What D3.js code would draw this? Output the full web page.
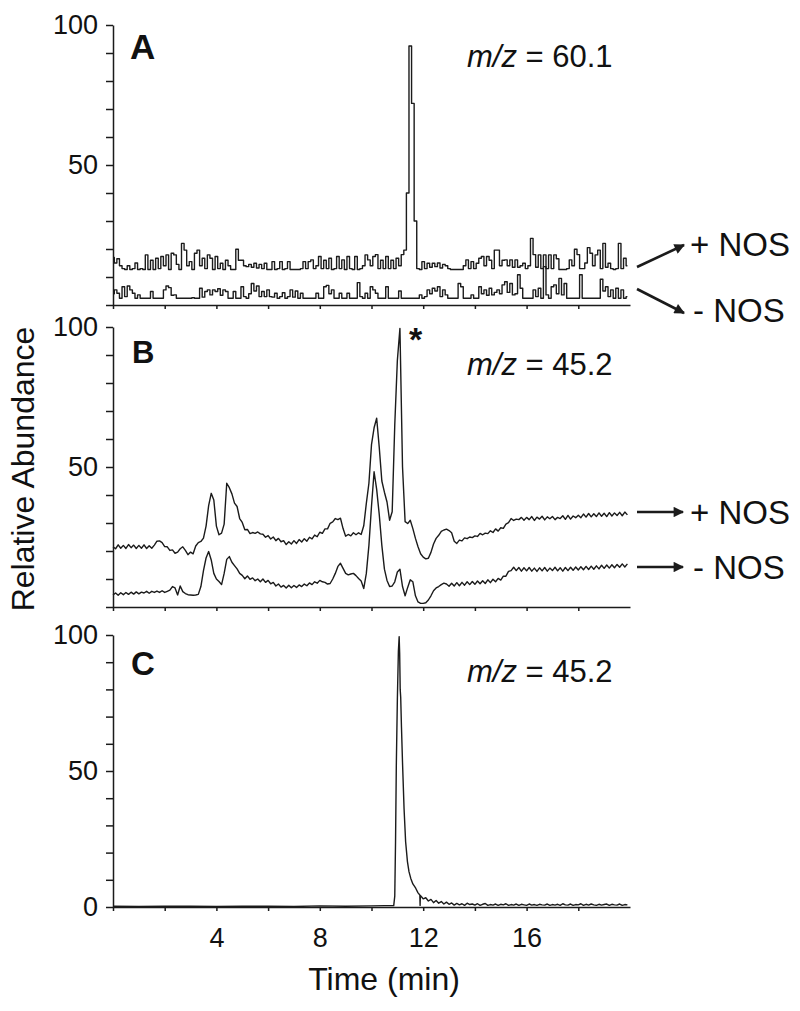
<!doctype html>
<html lang="en">
  <head>
    <meta charset="utf-8">
    <title>Relative abundance chromatograms</title>
    <script src="https://cdn.jsdelivr.net/npm/d3@7"></script>
    <style>
      body { margin: 0; background: #fff; }
      svg { display: block; }
      text { font-family: "Liberation Sans", Arial, sans-serif; fill: #111; }
    </style>
  </head>
  <body>
    <svg id="chart" width="800" height="1011"></svg>
    <script>
      // sampling of the A and B traces (min)
      const traceStart = 0;
      const traceStep = 0.1;

      const yTickValues = [0, 10, 20, 30, 40, 50, 60, 70, 80, 90, 100];
      const yTickLabelsAB = [50, 100];
      const yTickLabelsC = [0, 50, 100];
      const xTickValues = [0, 2, 4, 6, 8, 10, 12, 14, 16, 18];
      const xTickLabels = [4, 8, 12, 16];

      // panel A, m/z 60.1
      const panelAPlusNOS = [
        17, 15, 16.5, 14, 13, 12.7, 14, 12.7, 13, 15,
        12.7, 13, 12.7, 17.9, 12.7, 16, 12.7, 16.7, 13, 17.3,
        14, 17.9, 12.7, 18.5, 17.9, 14.5, 12.7, 22, 19.6, 14,
        15.5, 12.7, 18.5, 19.6, 14, 16.7, 13, 17.9, 16.7, 12.7,
        17.3, 13, 14.9, 12.7, 16, 14, 12.7, 12.7, 19.9, 16,
        16, 14, 13.7, 14.5, 13.5, 14.9, 13.2, 14.5, 13, 14.9,
        12.7, 12.7, 15.5, 12.7, 13, 15.5, 12.7, 13, 15.5, 12.7,
        12.7, 12.7, 12.7, 13, 15.5, 13, 15.5, 16.1, 13, 14,
        17.3, 13, 16, 13, 16.7, 12.7, 13, 17.3, 13, 16.1,
        12.7, 17.3, 13, 12.7, 17.3, 12.7, 13, 14, 17.9, 16.1,
        14, 17.3, 18, 13, 16, 13, 17.3, 13, 16, 13,
        16.7, 14, 18, 19.6, 40, 92.5, 72, 30, 13, 12.7,
        15.5, 13, 14.9, 13.5, 14.9, 13.7, 15, 13.2, 14.5, 14,
        13, 12.7, 12.7, 12.7, 12.7, 12.7, 14, 16.1, 13, 15.5,
        13, 14.9, 16.7, 17.3, 14, 17.3, 16, 13, 19.6, 19.6,
        14, 16, 16.1, 14, 16.1, 13.5, 16.1, 13.5, 14, 14.9,
        13, 14, 23.8, 18, 13.5, 17.9, 13, 17.9, 13, 17.9,
        13, 17.9, 16.5, 12.7, 12.7, 12.7, 13, 16.1, 14, 19.9,
        18, 13, 13, 15, 20.5, 18.5, 14, 17.9, 19.6, 13,
        22, 13.5, 14.9, 13, 12.7, 13, 22, 13, 16.7, 14
      ];
      const panelAMinusNOS = [
        4, 5.4, 4.2, 2.4, 6.5, 3, 6.8, 5.4, 4.2, 2.4,
        3.6, 2.4, 2.4, 2.4, 2.4, 4.8, 2.4, 2.4, 2.4, 2.4,
        5.4, 6.8, 6.2, 3.5, 3.6, 2.4, 2.4, 2.4, 2.4, 2.4,
        2.4, 2.6, 2.4, 2.4, 6, 2.8, 4.8, 5.4, 3.6, 5.4,
        4.8, 5.8, 3.5, 5.4, 4.8, 2.4, 2.4, 4.8, 2.4, 2.4,
        6.5, 3, 2.4, 4, 7.7, 5, 6.8, 3, 4.8, 3,
        5.4, 3, 2.8, 4.2, 2.4, 3, 4.4, 2.4, 3, 5.4,
        2.8, 5, 2.4, 4.2, 2.4, 2.4, 2.4, 2.4, 2.4, 4.2,
        2.4, 2.4, 6.5, 7, 4, 5.4, 2.4, 2.4, 4.2, 2.4,
        2.4, 4.2, 2.4, 2.4, 2.4, 8, 3, 2.4, 4.2, 2.4,
        6.5, 5.4, 4.2, 2.4, 2.4, 2.4, 6.5, 2.4, 2.4, 2.4,
        2.4, 5, 2.4, 2.4, 2.4, 2.4, 2.4, 2.4, 2.4, 3.6,
        2.4, 3, 5.4, 4, 6, 5, 6.5, 3, 5.4, 3.6,
        2.4, 2.4, 2.4, 2.4, 7.7, 6.5, 2.4, 2.4, 2.4, 3.6,
        2.4, 2.4, 6.5, 4, 5.4, 3.5, 6, 3.6, 4.5, 5.4,
        4, 7.2, 8.3, 4.5, 7.7, 3.6, 4, 10.8, 6, 2.4,
        2.4, 2.4, 2.4, 5.4, 3, 6, 2.4, 13.7, 3.6, 2.4,
        6.5, 7.2, 4, 9.5, 3.6, 7.7, 2.4, 2.4, 2.4, 2.4,
        2.4, 10.8, 2.4, 2.4, 2.4, 2.4, 2.4, 2.4, 2.4, 9.2,
        5, 6.5, 3, 5.4, 2.4, 6, 2.4, 5.4, 2.4, 3
      ];

      // panel B, m/z 45.2
      const panelBPlusNOS = [
        21.5, 20.8, 22.2, 21.0, 22.0, 20.9, 22.3, 21.2, 22.1, 20.9,
        22.0, 21.0, 22.2, 20.9, 21.9, 21.0, 22.1, 23.5, 23.6, 23.0,
        21.6, 21.5, 20.2, 20.4, 19.2, 19.6, 20.8, 21.5, 20.2, 18.7,
        19.6, 19.0, 21.8, 23.0, 23.4, 24.6, 28.9, 36.2, 40.6, 38.2,
        28.9, 25.8, 26.4, 29.6, 44.2, 42.6, 40.4, 37.1, 35.9, 31.6,
        30.2, 27.6, 27.7, 26.2, 26.6, 26.3, 26.8, 26.1, 26.0, 24.9,
        25.5, 24.3, 25.0, 23.7, 24.5, 23.3, 23.7, 22.3, 23.3, 22.5,
        23.7, 22.7, 24.1, 23.2, 24.4, 23.5, 24.9, 24.3, 25.7, 25.1,
        26.7, 26.3, 27.9, 27.9, 29.9, 30.4, 31.6, 31.2, 31.7, 28.0,
        25.3, 25.9, 25.4, 26.5, 25.8, 26.5, 25.9, 29.0, 37.0, 44.2,
        58.0, 64.0, 67.4, 57.0, 45.0, 41.0, 37.5, 31.0, 34.0, 65.0,
        88.0, 99.5, 50.0, 30.5, 29.8, 31.0, 28.0, 24.5, 21.5, 19.0,
        17.8, 17.2, 17.4, 19.5, 22.5, 24.5, 25.6, 27.0, 27.5, 27.8,
        27.3, 26.5, 23.5, 22.7, 23.9, 23.6, 24.7, 24.4, 25.0, 24.8,
        25.4, 25.2, 26.3, 25.8, 26.4, 26.2, 27.2, 26.6, 27.9, 27.1,
        28.3, 28.1, 29.6, 30.1, 31.6, 30.9, 31.4, 31.2, 32.0, 31.0,
        32.0, 31.2, 32.3, 30.9, 32.1, 31.4, 32.4, 31.1, 32.2, 31.5,
        32.3, 31.2, 32.0, 31.6, 32.6, 31.3, 32.7, 31.4, 32.5, 31.9,
        32.8, 31.9, 33.2, 32.1, 33.4, 32.2, 33.3, 32.3, 33.6, 32.4,
        33.5, 32.3, 33.7, 32.5, 33.6, 32.7, 33.8, 32.6, 33.9, 32.9
      ];
      const panelBMinusNOS = [
        4.3, 5.0, 4.2, 5.1, 4.4, 5.2, 4.5, 5.3, 4.6, 5.4,
        4.7, 5.3, 5.0, 5.6, 4.9, 5.6, 5.2, 5.7, 5.2, 5.8,
        5.2, 5.6, 6.0, 7.3, 6.8, 4.3, 7.5, 5.5, 4.8, 4.4,
        4.3, 4.2, 4.3, 4.5, 7.3, 13.0, 17.5, 19.8, 16.8, 12.0,
        10.0, 9.1, 8.0, 12.0, 17.0, 18.0, 16.0, 14.8, 13.6, 12.0,
        11.3, 10.1, 11.1, 9.9, 10.4, 9.4, 10.0, 9.0, 10.0, 8.8,
        9.5, 8.3, 8.8, 7.5, 8.2, 7.1, 7.7, 6.8, 7.8, 6.9,
        7.7, 7.0, 7.9, 7.3, 8.2, 7.6, 8.6, 8.0, 9.0, 8.5,
        9.5, 9.0, 8.8, 8.2, 8.4, 10.0, 12.0, 14.5, 15.6, 13.8,
        12.0, 11.5, 11.8, 12.0, 11.2, 10.2, 9.3, 6.6, 12.0, 22.0,
        36.0, 48.3, 42.0, 33.0, 22.0, 13.5, 9.5, 7.3, 7.5, 9.0,
        12.5, 13.5, 7.3, 4.0, 7.0, 9.7, 9.0, 4.0, 1.8, 1.3,
        1.3, 1.5, 2.5, 4.0, 5.8, 6.8, 7.3, 8.0, 8.5, 8.2,
        7.4, 8.5, 7.5, 8.7, 7.6, 8.8, 7.8, 9.0, 8.0, 9.1,
        8.1, 9.3, 8.3, 9.4, 8.4, 9.7, 8.7, 9.9, 9.0, 10.2,
        9.6, 11.0, 11.0, 12.7, 13.0, 14.2, 13.0, 14.1, 12.8, 14.0,
        12.9, 14.1, 12.8, 13.9, 12.7, 14.0, 12.9, 14.1, 12.8, 13.9,
        13.0, 14.2, 12.9, 14.0, 12.8, 14.1, 13.0, 14.2, 13.1, 14.3,
        13.2, 14.4, 13.3, 14.5, 13.4, 14.6, 13.5, 14.7, 13.6, 14.9,
        13.8, 15.0, 13.9, 15.1, 14.0, 15.2, 14.2, 15.4, 14.3, 15.4
      ];

      // panel C, m/z 45.2 (irregular sampling around the peak)
      const panelCTimes = [
        0, 1, 2, 3, 4, 5, 6, 7, 8, 9, 10, 10.5,
        10.86, 10.9, 10.93, 10.96, 11.0, 11.04, 11.07, 11.09, 11.11, 11.13,
        11.16, 11.2, 11.26, 11.32, 11.39, 11.45, 11.52, 11.6, 11.71, 11.8,
        11.87, 11.88, 11.89, 11.95, 12.0, 12.1, 12.2, 12.3, 12.4, 12.5,
        12.6, 12.7, 12.8, 12.9,
        13.0, 13.1, 13.2, 13.3, 13.4, 13.5, 13.6, 13.7, 13.8, 13.9,
        14.0, 14.1, 14.2, 14.3, 14.4, 14.5, 14.6, 14.7, 14.8, 14.9,
        15.0, 15.1, 15.2, 15.3, 15.4, 15.5, 15.6, 15.7, 15.8, 15.9,
        16.0, 16.1, 16.2, 16.3, 16.4, 16.5, 16.6, 16.7, 16.8, 16.9,
        17.0, 17.1, 17.2, 17.3, 17.4, 17.5, 17.6, 17.7, 17.8, 17.9,
        18.0, 18.1, 18.2, 18.3, 18.4, 18.5, 18.6, 18.7, 18.8, 18.9,
        19.0, 19.1, 19.2, 19.3, 19.4, 19.5, 19.6, 19.7, 19.8, 19.9
      ];
      const panelCValues = [
        0.3, 0.2, 0.3, 0.3, 0.2, 0.3, 0.3, 0.2, 0.4, 0.3, 0.4, 0.5,
        0.5, 4, 24, 52, 76, 94, 99.4, 93, 80, 77,
        66, 53, 36, 24, 16.7, 13, 10.5, 8.5, 6.9, 5.2,
        4.4, 0.6, 4.2, 3.6, 3.0, 3.4, 2.2, 2.8, 1.6, 2.4,
        1.4, 2.0, 1.1, 1.8,
        1.0, 1.5, 0.7, 1.3, 0.8, 1.2, 0.6, 1.4, 0.9, 1.1,
        0.7, 1.2, 0.6, 1.0, 1.3, 0.6, 0.9, 0.7, 1.1, 0.6,
        1.0, 0.8, 1.2, 0.6, 0.9, 0.7, 1.1, 0.6, 1.0, 0.8,
        0.6, 1.1, 0.7, 0.9, 0.6, 1.0, 0.8, 0.7, 1.1, 0.6,
        0.9, 0.7, 1.0, 0.6, 1.2, 0.8, 0.7, 1.1, 0.6, 0.9,
        0.8, 1.2, 0.6, 1.0, 0.7, 1.1, 0.8, 0.6, 1.0, 0.7,
        0.9, 1.1, 0.6, 1.0, 0.8, 0.7, 1.1, 0.6, 0.9, 0.8
      ];

      const sampled = (values) => values.map((v, i) => [traceStart + i * traceStep, v]);
      const paired = (times, values) => times.map((t, i) => [t, values[i]]);

      const ink = "#1b1b1b";
      const svg = d3.select("#chart");
      const x = d3.scaleLinear().domain([0, 20]).range([113, 630]);

      const defs = svg.append("defs");
      defs.append("marker")
        .attr("id", "head")
        .attr("viewBox", "0 0 10 10")
        .attr("refX", 9)
        .attr("refY", 5)
        .attr("markerWidth", 4.5)
        .attr("markerHeight", 4)
        .attr("orient", "auto")
        .append("path")
        .attr("d", "M0,0 L10,5 L0,10 z")
        .attr("fill", ink);

      const panels = [
        {
          letter: "A", letterSize: 35, letterX: 130, letterY: 59,
          top: 25, bottom: 305, mz: "60.1", mzY: 67,
          yLabels: yTickLabelsAB, step: true,
          traces: [sampled(panelAPlusNOS), sampled(panelAMinusNOS)],
          tags: [
            { text: "+ NOS", x: 690, y: 256, from: [637, 267], to: [684, 245] },
            { text: "- NOS", x: 693, y: 322, from: [637, 289], to: [684, 313] }
          ]
        },
        {
          letter: "B", letterSize: 31, letterX: 132, letterY: 363,
          top: 327, bottom: 607, mz: "45.2", mzY: 375,
          yLabels: yTickLabelsAB, step: false,
          traces: [sampled(panelBPlusNOS), sampled(panelBMinusNOS)],
          tags: [
            { text: "+ NOS", x: 690, y: 524, from: [637, 512], to: [683, 512] },
            { text: "- NOS", x: 693, y: 579, from: [637, 567], to: [683, 567] }
          ],
          star: { x: 409, y: 351 }
        },
        {
          letter: "C", letterSize: 33, letterX: 131, letterY: 675,
          top: 635, bottom: 907, mz: "45.2", mzY: 682,
          yLabels: yTickLabelsC, step: false, xLabels: true,
          traces: [paired(panelCTimes, panelCValues)],
          tags: []
        }
      ];

      panels.forEach((p) => {
        const y = d3.scaleLinear().domain([0, 100]).range([p.bottom, p.top]);
        const g = svg.append("g");

        const line = d3.line()
          .x((d) => x(d[0]))
          .y((d) => y(d[1]))
          .curve(p.step ? d3.curveStep : d3.curveLinear);

        g.selectAll("path.trace")
          .data(p.traces)
          .join("path")
          .attr("class", "trace")
          .attr("d", line)
          .attr("fill", "none")
          .attr("stroke", ink)
          .attr("stroke-width", 1.4)
          .attr("stroke-linejoin", "round");

        const yAxis = g.append("g")
          .attr("transform", `translate(${x(0)},0)`)
          .call(d3.axisLeft(y)
            .tickValues(yTickValues)
            .tickSize(7)
            .tickSizeOuter(0)
            .tickPadding(8)
            .tickFormat((d) => (p.yLabels.includes(d) ? d : "")));

        const xAxis = g.append("g")
          .attr("transform", `translate(0,${p.bottom})`)
          .call(d3.axisBottom(x)
            .tickValues(xTickValues)
            .tickSize(4)
            .tickSizeOuter(0)
            .tickPadding(17)
            .tickFormat((d) => (p.xLabels && xTickLabels.includes(d) ? d : "")));

        [yAxis, xAxis].forEach((a) => {
          a.selectAll("path, line").attr("stroke", ink).attr("stroke-width", 1.5);
          a.selectAll("text")
            .attr("font-family", '"Liberation Sans", Arial, sans-serif')
            .attr("font-size", 27)
            .attr("fill", ink);
        });

        g.append("text")
          .attr("x", p.letterX)
          .attr("y", p.letterY)
          .attr("font-size", p.letterSize)
          .attr("font-weight", "bold")
          .text(p.letter);

        const mz = g.append("text")
          .attr("x", 467)
          .attr("y", p.mzY)
          .attr("font-size", 31);
        mz.append("tspan").attr("font-style", "italic").text("m/z");
        mz.append("tspan").text(` = ${p.mz}`);

        p.tags.forEach((t) => {
          g.append("line")
            .attr("x1", t.from[0]).attr("y1", t.from[1])
            .attr("x2", t.to[0]).attr("y2", t.to[1])
            .attr("stroke", ink)
            .attr("stroke-width", 2.6)
            .attr("marker-end", "url(#head)");
          g.append("text")
            .attr("x", t.x)
            .attr("y", t.y)
            .attr("font-size", 33)
            .text(t.text);
        });

        if (p.star) {
          g.append("text")
            .attr("x", p.star.x)
            .attr("y", p.star.y)
            .attr("font-size", 34)
            .attr("font-weight", "bold")
            .text("*");
        }
      });

      svg.append("text")
        .attr("transform", "translate(34,469) rotate(-90)")
        .attr("text-anchor", "middle")
        .attr("font-size", 32)
        .text("Relative Abundance");

      svg.append("text")
        .attr("x", 384)
        .attr("y", 990)
        .attr("text-anchor", "middle")
        .attr("font-size", 32)
        .text("Time (min)");
    </script>
  </body>
</html>
